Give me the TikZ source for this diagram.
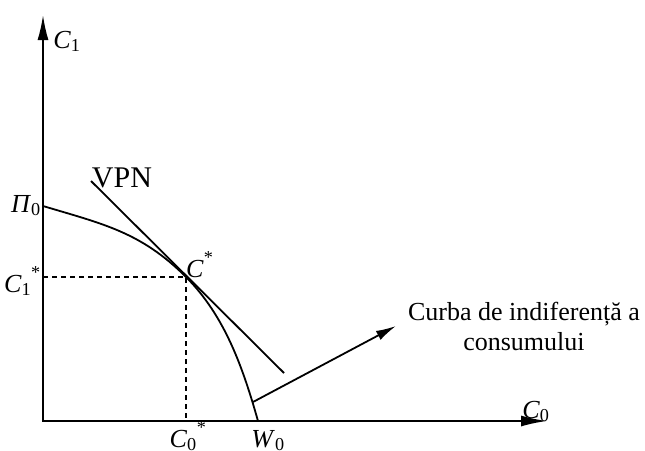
\documentclass[tikz,border=0pt]{standalone}
\usepackage{fontspec}
\setmainfont{Liberation Serif}
\usetikzlibrary{arrows.meta}
\newcommand{\sym}[2]{\textit{#1}\textsubscript{#2}}
\newcommand{\opt}[2]{\textit{#1}\textsubscript{#2}\raisebox{4pt}{\textsuperscript{*}}}
\begin{document}
\begin{tikzpicture}[x=1pt,y=-1pt,font=\fontsize{26}{30}\selectfont,
    axis/.style={line width=1.8pt,{Latex[length=25pt,width=11pt]}-{Latex[length=26pt,width=11pt]}},
    curve/.style={line width=1.8pt},
    guide/.style={line width=1.4pt,dash pattern=on 5pt off 4pt},
    pointer/.style={line width=1.8pt,-{Latex[length=20pt,width=10pt]}},
    lab/.style={inner sep=0pt,anchor=base}]
    \useasboundingbox (0,0) rectangle (645,450);
    \coordinate (O) at (43,421);
    \coordinate (Ytop) at (43,15);
    \coordinate (Xend) at (547,421);
    \coordinate (P) at (43,206);
    \coordinate (S) at (186,277);
    \coordinate (W) at (258,421);
    \coordinate (V1) at (91,181);
    \coordinate (V2) at (284,373);
    \coordinate (Wc) at (253,402);

    % axes
    \draw[axis] (Ytop) -- (O) -- (Xend);

    % frontier and NPV line
    \draw[curve] (P) .. controls (103,224) and (141,232) .. (S)
        .. controls (225,316) and (243,368) .. (W);
    \draw[curve] (V1) -- (V2);

    % optimum
    \draw[guide] (O |- S) -- (S) -- (S |- O);

    \node[lab] (c1) at (67,48) {\sym{C}{1}};
    \node[lab] (c0) at (536,418) {\sym{C}{0}};
    \node[lab] (p0) at (26,212) {\sym{Π}{0}};
    \node[lab,font=\fontsize{30}{30}\selectfont] (vpn) at (122,187) {VPN};
    \node[lab,anchor=base west] (cs) at (186,277) {\textit{C}\raisebox{4pt}{\textsuperscript{*}}};
    \node[lab,anchor=base east] (c1s) at (41,292) {\opt{C}{1}};
    \node[lab] (c0s) at (188,447) {\opt{C}{0}};
    \node[lab] (w0) at (268,447) {\sym{W}{0}};
    \node[align=center,inner xsep=12pt] (lbl) at (524,326)
        {Curba de indiferență a\\consumului};
    \draw[pointer] (Wc) -- (lbl.west);
\end{tikzpicture}
\end{document}
